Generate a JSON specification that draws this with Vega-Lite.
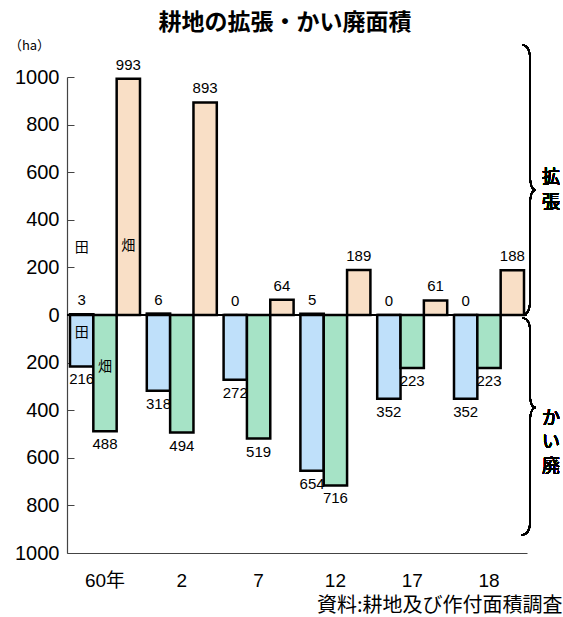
{
  "$schema": "https://vega.github.io/schema/vega-lite/v6.json",
  "width": 460,
  "height": 476,
  "autosize": {"type": "none"},
  "padding": {"left": 67, "top": 77, "right": 36, "bottom": 64},
  "background": "white",
  "title": {
    "text": "耕地の拡張・かい廃面積",
    "font": "Noto Sans CJK JP",
    "fontSize": 23,
    "fontWeight": "bold",
    "color": "#000",
    "anchor": "middle",
    "dx": -12,
    "offset": 4
  },
  "config": {
    "view": {"stroke": null},
    "font": "Noto Sans CJK JP"
  },
  "datasets": {
    "bars": [
      {"year": "60年", "slot": "a", "kind": "田", "value": 3},
      {"year": "60年", "slot": "a", "kind": "田", "value": -216},
      {"year": "60年", "slot": "b", "kind": "畑かい廃", "value": -488},
      {"year": "60年", "slot": "c", "kind": "畑拡張", "value": 993},
      {"year": "2", "slot": "a", "kind": "田", "value": 6},
      {"year": "2", "slot": "a", "kind": "田", "value": -318},
      {"year": "2", "slot": "b", "kind": "畑かい廃", "value": -494},
      {"year": "2", "slot": "c", "kind": "畑拡張", "value": 893},
      {"year": "7", "slot": "a", "kind": "田", "value": 0},
      {"year": "7", "slot": "a", "kind": "田", "value": -272},
      {"year": "7", "slot": "b", "kind": "畑かい廃", "value": -519},
      {"year": "7", "slot": "c", "kind": "畑拡張", "value": 64},
      {"year": "12", "slot": "a", "kind": "田", "value": 5},
      {"year": "12", "slot": "a", "kind": "田", "value": -654},
      {"year": "12", "slot": "b", "kind": "畑かい廃", "value": -716},
      {"year": "12", "slot": "c", "kind": "畑拡張", "value": 189},
      {"year": "17", "slot": "a", "kind": "田", "value": 0},
      {"year": "17", "slot": "a", "kind": "田", "value": -352},
      {"year": "17", "slot": "b", "kind": "畑かい廃", "value": -223},
      {"year": "17", "slot": "c", "kind": "畑拡張", "value": 61},
      {"year": "18", "slot": "a", "kind": "田", "value": 0},
      {"year": "18", "slot": "a", "kind": "田", "value": -352},
      {"year": "18", "slot": "b", "kind": "畑かい廃", "value": -223},
      {"year": "18", "slot": "c", "kind": "畑拡張", "value": 188}
    ],
    "names": [
      {"year": "60年", "slot": "a", "name": "田", "value": 281},
      {"year": "60年", "slot": "c", "name": "畑", "value": 290},
      {"year": "60年", "slot": "a", "name": "田", "value": -76},
      {"year": "60年", "slot": "b", "name": "畑", "value": -218}
    ]
  },
  "data": {"name": "bars"},
  "layer": [
    {
      "mark": {"type": "rule", "color": "#000", "strokeWidth": 2},
      "encoding": {"y": {"datum": 0, "type": "quantitative"}}
    },
    {
      "mark": {"type": "bar", "stroke": "#000", "strokeWidth": 2.5},
      "encoding": {
        "x": {
          "field": "year", "type": "nominal", "sort": null,
          "scale": {"paddingInner": 0.0885, "paddingOuter": 0.039},
          "axis": {
            "title": "資料:耕地及び作付面積調査",
            "titleFont": "Noto Sans CJK JP",
            "titleFontSize": 20,
            "titleFontWeight": "normal",
            "titleColor": "#000",
            "titleAnchor": "end",
            "titleAlign": "right",
            "titleBaseline": "middle",
            "titleX": 495,
            "titleY": 52,
            "labelAngle": 0,
            "labelFont": "Liberation Sans, Noto Sans CJK JP",
            "labelFontSize": 19,
            "labelColor": "#000",
            "labelPadding": 18,
            "ticks": false,
            "domainColor": "#444",
            "domainWidth": 1.2
          }
        },
        "xOffset": {"field": "slot", "type": "nominal", "scale": {"paddingInner": 0, "paddingOuter": 0}},
        "y": {
          "field": "value", "type": "quantitative",
          "scale": {"domain": [-1000, 1000], "nice": false},
          "axis": {
            "title": "（ha）",
            "titleAngle": 0,
            "titleFont": "Noto Sans CJK JP",
            "titleFontSize": 13,
            "titleFontWeight": "normal",
            "titleColor": "#000",
            "titleAlign": "center",
            "titleBaseline": "middle",
            "titleX": -38,
            "titleY": -32,
            "values": [-1000, -800, -600, -400, -200, 0, 200, 400, 600, 800, 1000],
            "labelExpr": "abs(datum.value)",
            "labelFont": "Liberation Sans",
            "labelFontSize": 20,
            "labelColor": "#000",
            "labelPadding": 15,
            "grid": false,
            "tickSize": -7,
            "tickColor": "#444",
            "domainColor": "#444",
            "domainWidth": 1.2
          }
        },
        "color": {
          "field": "kind", "type": "nominal",
          "scale": {"domain": ["田", "畑かい廃", "畑拡張"], "range": ["#BFE0FA", "#A6E3C6", "#F9DFC6"]},
          "legend": null
        }
      }
    },
    {
      "transform": [{"filter": "datum.value >= 0"}, {"calculate": "abs(datum.value)", "as": "label"}],
      "mark": {"type": "text", "baseline": "bottom", "dy": -6, "font": "Liberation Sans", "fontSize": 15, "color": "#000"},
      "encoding": {
        "x": {"field": "year", "type": "nominal", "sort": null},
        "xOffset": {"field": "slot", "type": "nominal"},
        "y": {"field": "value", "type": "quantitative"},
        "text": {"field": "label"}
      }
    },
    {
      "transform": [{"filter": "datum.value < 0"}, {"calculate": "abs(datum.value)", "as": "label"}],
      "mark": {"type": "text", "baseline": "top", "dy": 6, "font": "Liberation Sans", "fontSize": 15, "color": "#000"},
      "encoding": {
        "x": {"field": "year", "type": "nominal", "sort": null},
        "xOffset": {"field": "slot", "type": "nominal"},
        "y": {"field": "value", "type": "quantitative"},
        "text": {"field": "label"}
      }
    },
    {
      "data": {"name": "names"},
      "mark": {"type": "text", "baseline": "middle", "font": "Noto Sans CJK JP", "fontSize": 14, "fontWeight": "normal", "color": "#000"},
      "encoding": {
        "x": {"field": "year", "type": "nominal", "sort": null},
        "xOffset": {"field": "slot", "type": "nominal"},
        "y": {"field": "value", "type": "quantitative"},
        "text": {"field": "name"}
      }
    },
    {
      "mark": {
        "type": "point", "filled": false, "stroke": "#000", "strokeWidth": 1.5, "opacity": 1,
        "shape": "M 0.245 -1 Q 0.304 -1 0.304 -0.889 L 0.304 -0.037 Q 0.304 0.074 0.348 0.074 Q 0.304 0.074 0.304 0.185 L 0.304 0.889 Q 0.304 1 0.245 1",
        "size": 72900
      },
      "encoding": {
        "x": {"datum": "18", "type": "nominal"},
        "y": {"datum": 567, "type": "quantitative"}
      }
    },
    {
      "mark": {
        "type": "point", "filled": false, "stroke": "#000", "strokeWidth": 1.5, "opacity": 1,
        "shape": "M 0.304 -1 Q 0.378 -1 0.378 -0.876 L 0.378 -0.304 Q 0.378 -0.171 0.433 -0.171 Q 0.378 -0.171 0.378 -0.037 L 0.378 0.876 Q 0.378 1 0.295 1",
        "size": 47089
      },
      "encoding": {
        "x": {"datum": "18", "type": "nominal"},
        "y": {"datum": -468, "type": "quantitative"}
      }
    },
    {
      "mark": {"type": "text", "text": ["拡", "張"], "lineHeight": 25, "font": "Noto Sans CJK JP", "fontSize": 18, "fontWeight": "normal", "color": "#000", "dx": 62, "baseline": "middle"},
      "encoding": {
        "x": {"datum": "18", "type": "nominal"},
        "y": {"datum": 577, "type": "quantitative"}
      }
    },
    {
      "mark": {"type": "text", "text": ["か", "い", "廃"], "lineHeight": 24, "font": "Noto Sans CJK JP", "fontSize": 18, "fontWeight": "normal", "color": "#000", "dx": 62, "baseline": "middle"},
      "encoding": {
        "x": {"datum": "18", "type": "nominal"},
        "y": {"datum": -437, "type": "quantitative"}
      }
    }
  ]
}
